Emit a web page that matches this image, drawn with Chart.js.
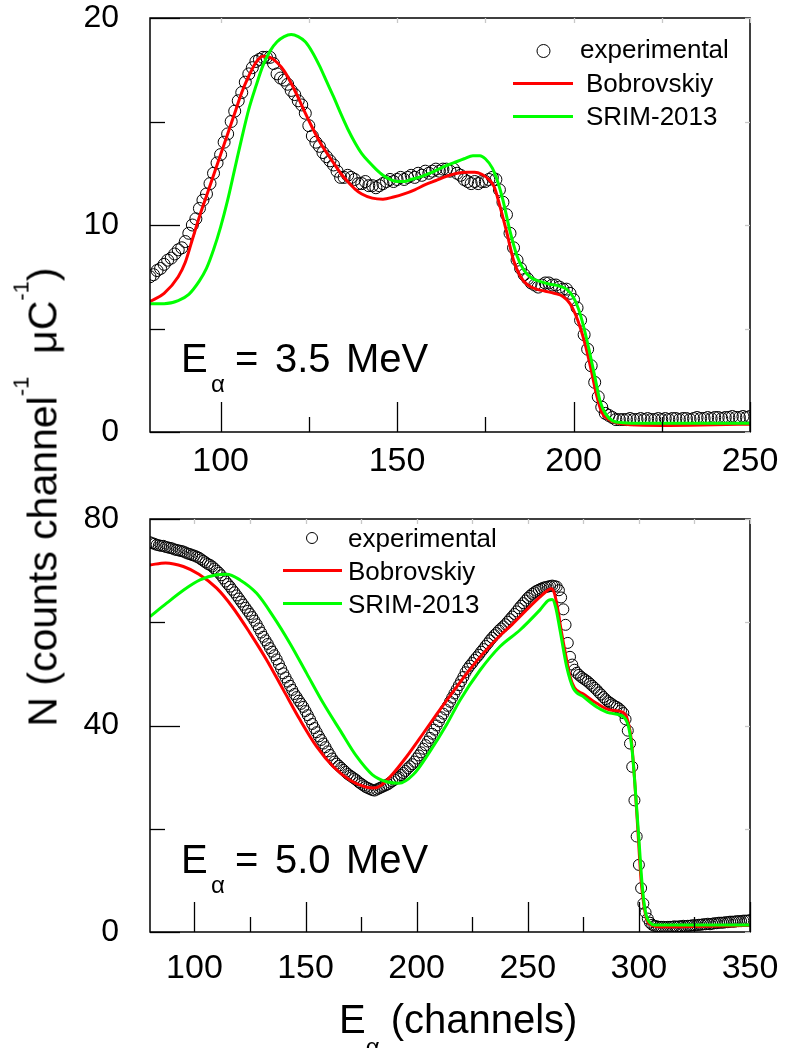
<!DOCTYPE html>
<html>
<head>
<meta charset="utf-8">
<script src="https://cdn.jsdelivr.net/npm/chart.js@4.4.0/dist/chart.umd.min.js"></script>
<style>
  body { margin: 0; background: #fff; }
  #wrap { position: relative; width: 787px; height: 1048px; overflow: hidden; font-family: "Liberation Sans", Arial, sans-serif; }
  canvas { position: absolute; left: 0; }
  #top-chart { top: 0; }
  #bottom-chart { top: 490px; }
  .title { position: absolute; white-space: nowrap; font-size: 41px; line-height: 46px; color: #000; }
  .title sup { font-size: 22px; vertical-align: baseline; position: relative; top: -28px; }
  .title sub { font-size: 24px; vertical-align: baseline; position: relative; top: 22px; }
  #ytitle { left: 46px; top: 497px; transform: translate(-50%, -50%) rotate(-90deg); }
  #xtitle { left: 339px; top: 996px; font-size: 40px; }
</style>
</head>
<body>
<div id="wrap">
  <canvas id="top-chart" width="787" height="490"></canvas>
  <canvas id="bottom-chart" width="787" height="558"></canvas>
  <div class="title" id="ytitle">N (counts channel<sup>-1</sup>&nbsp; &mu;C<sup>-1</sup>)</div>
  <div class="title" id="xtitle">E<sub>&alpha;</sub> (channels)</div>
</div>
<script>
const fontFamily = '"Liberation Sans", Arial, sans-serif';

// ---- E = 3.5 MeV panel ----
const topStart = 80; // first channel of the measured spectrum
const topExp = [
  7.5, 7.6, 7.8, 7.9, 8.1, 8.3, 8.4, 8.6, 8.8, 8.9,
  9.2, 9.6, 10.0, 10.3, 10.8, 11.2, 11.5, 12.0, 12.5, 13.0,
  13.4, 14.0, 14.4, 15.0, 15.5, 16.0, 16.4, 16.9, 17.3, 17.6,
  17.9, 18.0, 18.1, 18.1, 18.1, 17.8, 17.3, 17.1, 17.0, 16.8,
  16.5, 16.3, 16.0, 15.8, 15.4, 14.8, 14.3, 14.0, 13.8, 13.5,
  13.3, 13.1, 12.9, 12.6, 12.3, 12.3, 12.4, 12.3, 12.2, 12.0,
  12.0, 12.1, 11.9, 11.9, 11.8, 11.9, 12.0, 12.1, 12.2, 12.1,
  12.2, 12.3, 12.2, 12.3, 12.4, 12.3, 12.5, 12.4, 12.6, 12.5,
  12.6, 12.7, 12.6, 12.7, 12.7, 12.6, 12.7, 12.5, 12.4, 12.2,
  12.1, 12.0, 12.1, 12.0, 12.1, 12.1, 12.2, 12.3, 12.2, 11.7,
  11.1, 10.5, 9.6, 8.9, 8.3, 7.9, 7.6, 7.4, 7.2, 7.1,
  7.0, 7.1, 7.2, 7.2, 7.1, 7.1, 7.0, 6.9, 6.9, 6.7,
  6.4, 6.0, 5.4, 4.7, 4.0, 3.2, 2.4, 1.7, 1.2, 0.9,
  0.8, 0.7, 0.6, 0.6, 0.6, 0.6, 0.65, 0.6, 0.6, 0.65,
  0.6, 0.65, 0.6, 0.6, 0.65, 0.6, 0.65, 0.6, 0.65, 0.65,
  0.6, 0.65, 0.65, 0.6, 0.65, 0.7, 0.65, 0.65, 0.7, 0.65,
  0.7, 0.7, 0.65, 0.7, 0.7, 0.75, 0.7, 0.7, 0.75, 0.7,
  0.75
];
const topBobX = [80, 84, 88, 90, 92, 94, 96, 98, 100, 102, 104, 106, 108, 110, 112, 114, 116, 118, 120, 122, 124, 126, 128, 130, 132, 134, 136, 138, 140, 143, 146, 149, 152, 155, 158, 161, 164, 167, 170, 172, 174, 176, 177.5, 179, 181, 183, 185, 187, 189.5, 192, 194.5, 197, 199, 200.5, 202, 203.5, 205, 206.5, 208, 210, 212, 216, 225, 240, 250];
const topBobY = [6.3, 6.7, 7.5, 8.2, 9.3, 10.4, 11.4, 12.4, 13.4, 14.4, 15.4, 16.4, 17.2, 17.85, 18.15, 18.1, 17.85, 17.45, 16.85, 16.15, 15.4, 14.7, 14.05, 13.5, 13.0, 12.5, 12.1, 11.75, 11.5, 11.3, 11.25, 11.35, 11.5, 11.7, 11.95, 12.15, 12.35, 12.5, 12.55, 12.55, 12.45, 12.2, 11.85, 11.0, 9.7, 8.3, 7.5, 7.1, 6.9, 6.8, 6.7, 6.55, 6.2, 5.7, 5.0, 4.1, 3.0, 1.8, 0.95, 0.6, 0.45, 0.35, 0.32, 0.35, 0.38];
const topSrimX = [80, 84, 88, 91, 94, 96, 98, 100, 102, 104, 106, 108, 110, 112, 114, 116, 118, 120, 122, 124, 126, 128, 130, 132, 134, 136, 138, 140, 142, 144, 146, 148, 150, 152, 154, 157, 160, 163, 166, 169, 171.5, 173.5, 175, 177, 178.5, 180, 182, 184, 186, 188, 190, 193, 196, 198, 200, 201.5, 203, 204.5, 206, 207.5, 209, 211, 214, 220, 250];
const topSrimY = [6.2, 6.2, 6.35, 6.65, 7.3, 7.9, 8.8, 9.9, 11.2, 12.7, 14.2, 15.6, 16.7, 17.7, 18.4, 18.85, 19.1, 19.2, 19.1, 18.85, 18.35, 17.7, 16.95, 16.2, 15.4, 14.65, 14.0, 13.45, 13.05, 12.7, 12.4, 12.2, 12.1, 12.1, 12.2, 12.35, 12.55, 12.8, 13.0, 13.2, 13.35, 13.35, 13.2, 12.75, 12.1, 11.2, 9.7, 8.5, 7.8, 7.45, 7.3, 7.15, 7.05, 6.9, 6.5, 5.9, 5.0, 3.9, 2.7, 1.5, 0.9, 0.55, 0.45, 0.42, 0.42];

// ---- E = 5.0 MeV panel ----
const bottomStart = 80;
const bottomExp = [
  75.5, 75.3, 75.2, 75.0, 74.9, 74.8, 74.8, 74.6, 74.5, 74.4,
  74.3, 74.1, 74.0, 73.9, 73.8, 73.7, 73.5, 73.3, 73.2, 73.0,
  72.9, 72.7, 72.5, 72.2, 71.9, 71.6, 71.3, 71.1, 70.8, 70.4,
  70.0, 69.6, 69.1, 68.5, 67.9, 67.4, 66.9, 66.3, 65.8, 65.2,
  64.6, 64.0, 63.4, 62.8, 62.2, 61.6, 61.0, 60.3, 59.6, 58.8,
  58.0, 57.2, 56.5, 55.8, 55.0, 54.3, 53.6, 52.8, 51.9, 51.0,
  50.1, 49.3, 48.5, 47.7, 46.9, 46.1, 45.5, 44.8, 44.2, 43.6,
  42.8, 42.0, 41.2, 40.3, 39.5, 38.7, 37.9, 37.2, 36.5, 35.8,
  35.0, 34.3, 33.6, 33.0, 32.6, 32.2, 31.8, 31.4, 31.0, 30.6,
  30.3, 30.0, 29.7, 29.4, 29.0, 28.7, 28.4, 28.1, 27.9, 27.7,
  27.5, 27.4, 27.6, 27.8, 28.0, 28.2, 28.4, 28.6, 28.9, 29.2,
  29.5, 29.8, 30.0, 30.4, 30.8, 31.2, 31.7, 32.1, 32.5, 33.0,
  33.6, 34.2, 34.8, 35.5, 36.2, 36.9, 37.6, 38.4, 39.2, 40.0,
  40.8, 41.6, 42.3, 43.1, 43.8, 44.6, 45.4, 46.2, 47.0, 47.8,
  48.6, 49.4, 50.3, 51.0, 51.6, 52.1, 52.7, 53.2, 53.7, 54.3,
  54.8, 55.4, 55.9, 56.5, 57.0, 57.5, 57.9, 58.4, 58.8, 59.2,
  59.6, 60.1, 60.6, 61.1, 61.6, 62.1, 62.7, 63.2, 63.7, 64.2,
  64.7, 65.1, 65.5, 65.8, 66.1, 66.3, 66.5, 66.7, 66.8, 66.9,
  67.0, 67.1, 67.0, 66.9, 66.2, 64.8, 62.5, 59.5, 56.0, 53.3,
  51.8, 50.8, 50.2, 49.8, 49.4, 49.1, 48.8, 48.5, 48.1, 47.7,
  47.3, 46.9, 46.4, 46.0, 45.5, 45.1, 44.7, 44.4, 44.1, 43.8,
  43.6, 43.3, 42.9, 42.4, 41.2, 39.0, 36.5, 32.0, 25.5, 18.5,
  13.0, 8.5, 5.5, 3.8, 2.6, 1.8, 1.4, 1.2, 1.1, 1.0,
  1.0, 1.0, 0.9, 1.0, 1.0, 1.0, 1.1, 1.0, 1.1, 1.1,
  1.2, 1.1, 1.2, 1.2, 1.3, 1.3, 1.3, 1.4, 1.4, 1.5,
  1.5, 1.6, 1.5, 1.6, 1.7, 1.7, 1.8, 1.8, 1.8, 1.9,
  1.9, 2.0, 2.0, 2.0, 2.1, 2.1, 2.1, 2.2, 2.2, 2.2,
  2.3
];
const bottomBobX = [80, 87, 95, 102, 110, 117, 125, 132.5, 140, 147.5, 155, 162.5, 170, 177, 181, 184, 189, 195, 203, 210, 218, 224, 230, 237, 243, 249, 255.5, 259, 260.5, 262, 263.5, 265, 267, 269, 271, 275, 281, 287, 292, 294.5, 296.5, 298, 299.5, 301, 302.5, 304, 306, 310, 330, 350];
const bottomBobY = [71.1, 71.5, 70.8, 69.3, 66.6, 63.0, 57.9, 52.7, 46.9, 41.1, 35.9, 32.0, 29.4, 28.1, 27.9, 28.4, 30.5, 33.7, 38.5, 42.8, 47.5, 50.9, 54.0, 57.2, 59.6, 62.2, 64.9, 66.2, 66.5, 65.6, 62.5, 58.5, 53.8, 49.5, 47.3, 46.1, 44.3, 43.0, 42.7, 41.6, 37.5, 30, 20, 10, 4.5, 2.0, 1.3, 1.0, 1.1, 1.3];
const bottomSrimX = [80, 87.5, 95, 102.5, 110, 114.5, 120.5, 128, 135.5, 143, 150.5, 158, 165.5, 173, 180, 186.5, 192, 198.5, 206, 213.5, 219.5, 228.5, 237.5, 246.5, 255.5, 259.5, 261, 262.5, 264.5, 267.5, 270.5, 275, 281, 287, 293, 295.5, 297, 298.5, 300, 301.5, 303, 305, 307, 350];
const bottomSrimY = [61.1, 63.7, 66.2, 68.2, 69.2, 69.3, 68.2, 65.6, 61.1, 55.9, 50.1, 44.3, 39.1, 34.0, 30.5, 29.1, 28.8, 30.5, 35.0, 40.2, 44.9, 50.7, 55.3, 58.5, 62.4, 64.3, 64.4, 63.0, 58.5, 51.4, 47.2, 45.6, 43.6, 42.4, 41.7, 39.5, 35, 27, 18, 9, 3.8, 1.8, 1.36, 1.36];

const legendLabels = ['experimental', 'Bobrovskiy', 'SRIM-2013'];

function toPoints(xs, ys) {
  return xs.map((x, i) => ({ x: x, y: ys[i] }));
}

function decorPlugin(p) {
  return {
    id: 'decor',
    afterDraw(chart) {
      const ctx = chart.ctx;
      const a = chart.chartArea;
      const xs = chart.scales.x, ys = chart.scales.y;
      ctx.save();

      // frame
      ctx.strokeStyle = '#000';
      ctx.lineWidth = 1.5;
      ctx.strokeRect(a.left, a.top, a.right - a.left, a.bottom - a.top);

      // inward ticks: long on labelled values, short in between
      ctx.lineWidth = 1.3;
      for (let v = p.xTickFrom; v <= xs.max; v += p.xMinor) {
        const px = Math.round(xs.getPixelForValue(v)) + 0.5;
        const len = v % p.xMajor === 0 ? 30 : 15;
        ctx.strokeStyle = '#000';
        ctx.beginPath(); ctx.moveTo(px, a.bottom); ctx.lineTo(px, a.bottom - len); ctx.stroke();
        ctx.strokeStyle = '#c8c8c8';
        ctx.beginPath(); ctx.moveTo(px, a.top); ctx.lineTo(px, a.top + 5); ctx.stroke();
      }
      for (let v = ys.min; v <= ys.max; v += p.yMinor) {
        const py = Math.round(ys.getPixelForValue(v)) + 0.5;
        const len = v % p.yMajor === 0 ? 30 : 15;
        ctx.strokeStyle = '#000';
        ctx.beginPath(); ctx.moveTo(a.left, py); ctx.lineTo(a.left + len, py); ctx.stroke();
        ctx.strokeStyle = '#c8c8c8';
        ctx.beginPath(); ctx.moveTo(a.right, py); ctx.lineTo(a.right - 5, py); ctx.stroke();
      }

      // legend
      const L = p.legend;
      ctx.fillStyle = '#000';
      ctx.font = '26px ' + fontFamily;
      ctx.textBaseline = 'alphabetic';
      ctx.textAlign = 'left';
      ctx.strokeStyle = '#000';
      ctx.lineWidth = 1;
      ctx.beginPath(); ctx.arc(L.cx, L.cy, L.r, 0, Math.PI * 2); ctx.stroke();
      ctx.fillText(legendLabels[0], L.x0, L.base[0]);
      ctx.lineWidth = 3;
      ctx.strokeStyle = '#ff0000';
      ctx.beginPath(); ctx.moveTo(L.l0, L.line[0]); ctx.lineTo(L.l1, L.line[0]); ctx.stroke();
      ctx.fillText(legendLabels[1], L.x1, L.base[1]);
      ctx.strokeStyle = '#00ff00';
      ctx.beginPath(); ctx.moveTo(L.l0, L.line[1]); ctx.lineTo(L.l1, L.line[1]); ctx.stroke();
      ctx.fillText(legendLabels[2], L.x1, L.base[2]);

      // beam energy note
      const b = p.noteBase;
      ctx.font = '40px ' + fontFamily;
      ctx.fillText('E', 181, b);
      ctx.fillText('=', 235, b);
      ctx.fillText(p.energy, 275, b);
      ctx.fillText('MeV', 346, b);
      ctx.font = '24px ' + fontFamily;
      ctx.fillText('\u03b1', 211, b + 20);

      ctx.restore();
    }
  };
}

function makePanel(id, p) {
  return new Chart(document.getElementById(id), {
    type: 'scatter',
    data: {
      datasets: [
        {
          label: legendLabels[2],
          data: toPoints(p.srimX, p.srimY),
          showLine: true, pointRadius: 0, borderColor: '#00ff00', borderWidth: 3,
          cubicInterpolationMode: 'monotone', clip: 0, order: 0
        },
        {
          label: legendLabels[1],
          data: toPoints(p.bobX, p.bobY),
          showLine: true, pointRadius: 0, borderColor: '#ff0000', borderWidth: 3,
          cubicInterpolationMode: 'monotone', clip: 0, order: 1
        },
        {
          label: legendLabels[0],
          data: p.exp.map((v, i) => ({ x: p.start + i, y: v })),
          showLine: false, pointRadius: p.r, pointStyle: 'circle',
          pointBorderColor: '#000', pointBackgroundColor: 'rgba(0,0,0,0)', pointBorderWidth: 1,
          clip: 0, order: 2
        }
      ]
    },
    options: {
      responsive: false,
      animation: false,
      devicePixelRatio: 1,
      layout: { padding: { top: p.padTop, right: 37, left: 0, bottom: 0 } },
      plugins: { legend: { display: false }, tooltip: { enabled: false } },
      scales: {
        x: {
          type: 'linear', min: p.xMin, max: p.xMax,
          border: { display: false },
          grid: { display: false, drawTicks: false },
          ticks: { stepSize: 50, includeBounds: false, maxRotation: 0, autoSkip: false, padding: p.xPad,
                   color: '#000', font: { size: 34, family: fontFamily } },
          afterFit: s => { s.height = p.xAxisHeight; s.paddingLeft = 0; s.paddingRight = 0; }
        },
        y: {
          type: 'linear', min: p.yMin, max: p.yMax,
          border: { display: false },
          grid: { display: false, drawTicks: false },
          ticks: { stepSize: p.yMajor, padding: 31, color: '#000',
                   font: { size: 32, family: fontFamily, lineHeight: 1 } },
          afterFit: s => { s.width = 150; s.paddingTop = 0; s.paddingBottom = 0; }
        }
      }
    },
    plugins: [decorPlugin(p)]
  });
}

makePanel('top-chart', {
  start: topStart, exp: topExp, bobX: topBobX, bobY: topBobY, srimX: topSrimX, srimY: topSrimY,
  r: 6, xMin: 80, xMax: 250, yMin: 0, yMax: 20, yMajor: 10, yMinor: 5, xMajor: 50, xMinor: 25, xTickFrom: 100,
  padTop: 18, xAxisHeight: 58, xPad: 9, energy: '3.5', noteBase: 372,
  legend: { cx: 543.5, cy: 51, r: 6.5, x0: 580, x1: 586, l0: 513, l1: 573, line: [83.5, 116.5], base: [58, 92, 125] }
});

makePanel('bottom-chart', {
  start: bottomStart, exp: bottomExp, bobX: bottomBobX, bobY: bottomBobY, srimX: bottomSrimX, srimY: bottomSrimY,
  r: 5.5, xMin: 80, xMax: 350, yMin: 0, yMax: 80, yMajor: 40, yMinor: 20, xMajor: 50, xMinor: 25, xTickFrom: 100,
  padTop: 29, xAxisHeight: 116, xPad: 16, energy: '5.0', noteBase: 383,
  legend: { cx: 312, cy: 48, r: 5.5, x0: 348, x1: 348, l0: 283, l1: 342, line: [80.5, 113.5], base: [57, 90, 123] }
});
</script>
</body>
</html>
